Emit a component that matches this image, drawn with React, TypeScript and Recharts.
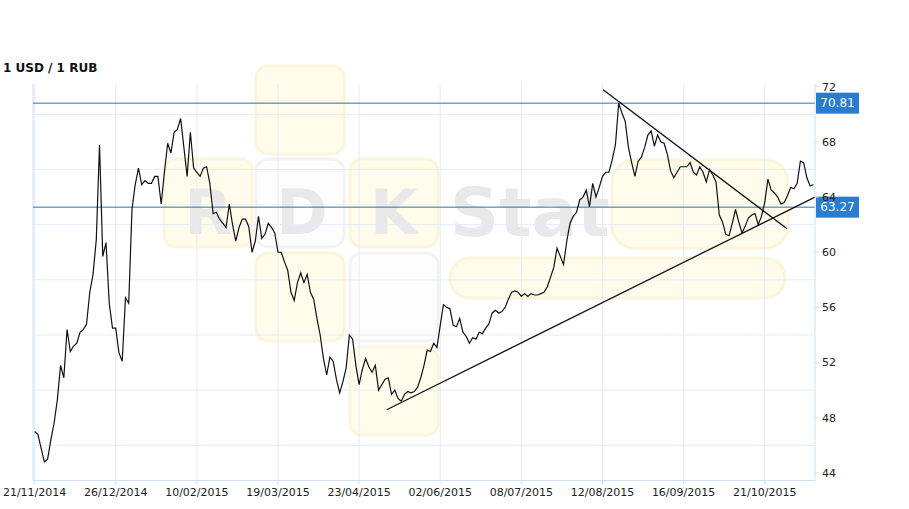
import { LineChart, Line, XAxis, YAxis, ReferenceLine } from 'recharts'

// USD/RUB daily close, one value per trading day (21/11/2014 .. end of Nov 2015)
const usdRub = [
  47.0, 46.8, 45.8, 44.8, 45.0, 46.4, 47.6, 49.3, 51.8, 50.9,
  54.4, 52.8, 53.2, 53.4, 54.2, 54.4, 54.8, 57.1, 58.4, 60.9,
  67.8, 59.7, 60.7, 56.3, 54.5, 54.5, 52.7, 52.1, 56.7, 56.3,
  63.1, 64.9, 66.1, 64.9, 65.2, 65.0, 65.0, 65.5, 65.5, 63.5,
  65.8, 67.9, 67.2, 68.7, 68.9, 69.7, 67.6, 65.5, 68.7, 66.1,
  65.8, 65.5, 66.1, 66.2, 65.0, 62.8, 62.9, 62.4, 62.1, 61.8,
  63.5, 62.0, 60.8, 61.8, 62.4, 62.4, 61.85, 60.0, 60.8, 62.6,
  61.0, 61.3, 62.1, 61.8, 61.4, 60.0, 60.0, 59.3, 58.7, 57.1,
  56.5, 57.8, 58.5, 57.8, 58.4, 57.1, 56.6, 55.2, 54.0, 52.3,
  51.1, 52.4, 52.1, 50.8, 49.8, 50.6, 51.6, 54.0, 53.7, 51.8,
  50.4, 51.5, 52.3, 51.7, 51.3, 51.8, 50.0, 50.4, 50.8, 50.9,
  49.7, 50.0, 49.4, 49.2, 49.7, 49.9, 49.8, 49.9, 50.2, 50.9,
  51.8, 52.9, 52.8, 53.4, 53.1, 54.7, 56.2, 56.0, 55.9, 54.7,
  54.6, 55.2, 54.2, 53.9, 53.4, 53.8, 53.7, 54.2, 54.1, 54.5,
  54.8, 55.6, 55.8, 55.6, 55.7, 56.0, 56.6, 57.1, 57.2, 57.1,
  56.8, 57.0, 56.8, 57.0, 56.9, 56.9, 57.0, 57.1, 57.5, 58.2,
  58.9, 60.3, 59.7, 59.1, 60.8, 62.1, 62.6, 62.9, 63.8, 64.0,
  64.5, 63.3, 65.0, 64.0, 64.7, 65.5, 65.8, 65.8, 66.7, 67.8,
  70.8, 70.1, 69.5, 67.6, 66.5, 65.5, 66.6, 66.9, 67.6, 68.5,
  68.8, 67.7, 68.5, 68.0, 67.9, 67.1, 65.9, 65.4, 65.8, 66.2,
  66.2, 66.2, 66.5, 65.8, 65.6, 66.2, 65.8, 65.1, 66.0, 65.6,
  65.1, 62.7, 62.2, 61.3, 61.2, 62.1, 63.1, 62.2, 61.4, 61.9,
  62.5, 62.7, 62.8, 62.0, 62.6, 63.6, 65.3, 64.5, 64.3, 64.0,
  63.5, 63.6, 64.1, 64.7, 64.6, 65.0, 66.6, 66.5, 65.4, 64.8,
  64.9,
]

const dateLabels = [
  '21/11/2014', '26/12/2014', '10/02/2015', '19/03/2015', '23/04/2015',
  '02/06/2015', '08/07/2015', '12/08/2015', '16/09/2015', '21/10/2015',
]
const labelEvery = 25

const yTicks = [44, 48, 52, 56, 60, 64, 68, 72]
const gridValues = [46, 50, 54, 58, 62, 66, 70]
const levels = [70.81, 63.27]

// hand drawn trend lines (index, rate)
const resistance = [{ x: 175.2, y: 71.78 }, { x: 231.9, y: 61.7 }]
const support = [{ x: 108.5, y: 48.58 }, { x: 240.5, y: 64.0 }]

const data = usdRub.map((v, i) => ({ i, v }))
const xTicks = dateLabels.map((_, k) => k * labelEvery)

const FONT = 'DejaVu Sans, Verdana, sans-serif'
const GRID = '#e2edf8'
const AXIS = '#cfe0f1'

function LevelTag({ viewBox, value }: any) {
  if (!viewBox) return null
  const x = viewBox.x + viewBox.width + 1
  const y = viewBox.y
  return (
    <g>
      <rect x={x} y={y - 10.5} width={43} height={21} fill="#2a7ccf" />
      <text x={x + 21.5} y={y} dy="0.36em" textAnchor="middle" fill="#fff" fontSize={12} fontFamily={FONT}>
        {value.toFixed(2)}
      </text>
    </g>
  )
}

// faint site logo behind the plot
function Watermark() {
  const yellow = { fill: '#fffcec', stroke: '#fbf5dc', strokeWidth: 3 }
  const white = { fill: '#fdfdfd', stroke: '#f3f3f3', strokeWidth: 3 }
  const letter = { fill: '#e9e9e9', fontFamily: FONT, fontWeight: 700 }
  return (
    <svg width={909} height={509} style={{ position: 'absolute', left: 0, top: 0 }}>
      <rect x={256} y={66} width={88} height={88} rx={12} {...yellow} />
      <rect x={164} y={159} width={88} height={88} rx={12} {...yellow} />
      <rect x={256} y={159} width={88} height={88} rx={12} {...white} />
      <rect x={350} y={159} width={88} height={88} rx={12} {...yellow} />
      <rect x={256} y={253} width={88} height={88} rx={12} {...yellow} />
      <rect x={350} y={253} width={88} height={88} rx={12} {...white} />
      <rect x={350} y={347} width={88} height={88} rx={12} {...yellow} />
      <rect x={612} y={160} width={176} height={88} rx={22} {...yellow} />
      <rect x={450} y={258} width={335} height={40} rx={20} {...yellow} />
      <text x={208} y={234} textAnchor="middle" fontSize={62} {...letter}>R</text>
      <text x={302} y={234} textAnchor="middle" fontSize={62} {...letter}>D</text>
      <text x={394} y={234} textAnchor="middle" fontSize={62} {...letter}>K</text>
      <text x={450} y={236} fontSize={68} {...letter}>Stat</text>
    </svg>
  )
}

export default function App() {
  return (
    <div style={{ position: 'absolute', left: 0, top: 0, width: 909, height: 509, background: '#fff', fontFamily: FONT }}>
      <Watermark />
      <div style={{ position: 'absolute', left: 3, top: 61, fontSize: 12, fontWeight: 700, lineHeight: '15px', color: '#111' }}>
        1 USD / 1 RUB
      </div>
      <div style={{ position: 'absolute', left: 0, top: 0 }}>
        <LineChart width={909} height={509} data={data} margin={{ top: 84, right: 34, left: 33, bottom: 0.5 }}>
          {gridValues.map((g) => (
            <ReferenceLine key={'h' + g} y={g} stroke={GRID} strokeWidth={1} />
          ))}
          {xTicks.map((t) => (
            <ReferenceLine key={'v' + t} x={t} stroke={GRID} strokeWidth={1} />
          ))}
          <ReferenceLine x={-0.5} stroke={AXIS} strokeWidth={1} />
          <XAxis
            dataKey="i"
            type="number"
            domain={[-0.5, 240.5]}
            ticks={xTicks}
            tickFormatter={(t: number) => dateLabels[t / labelEvery]}
            allowDataOverflow
            height={28}
            stroke={AXIS}
            tickSize={4}
            tickMargin={4}
            tick={{ fontSize: 11, fill: '#222', fontFamily: FONT }}
            interval={0}
          />
          <YAxis
            orientation="right"
            type="number"
            domain={[43.45, 72.2]}
            ticks={yTicks}
            allowDataOverflow
            width={60}
            stroke={AXIS}
            tickSize={4}
            tickMargin={3}
            tick={{ fontSize: 11, fill: '#222', fontFamily: FONT, textAnchor: 'start' }}
            interval={0}
          />
          {levels.map((lv) => (
            <ReferenceLine
              key={'l' + lv}
              y={lv}
              stroke="#3a6fa8"
              strokeWidth={1}
              label={(p: any) => <LevelTag {...p} value={lv} />}
            />
          ))}
          <Line
            type="linear"
            dataKey="v"
            stroke="#111"
            strokeWidth={1.2}
            dot={false}
            isAnimationActive={false}
          />
          <ReferenceLine segment={resistance} stroke="#111" strokeWidth={1.3} ifOverflow="visible" />
          <ReferenceLine segment={support} stroke="#111" strokeWidth={1.3} ifOverflow="visible" />
        </LineChart>
      </div>
    </div>
  )
}
